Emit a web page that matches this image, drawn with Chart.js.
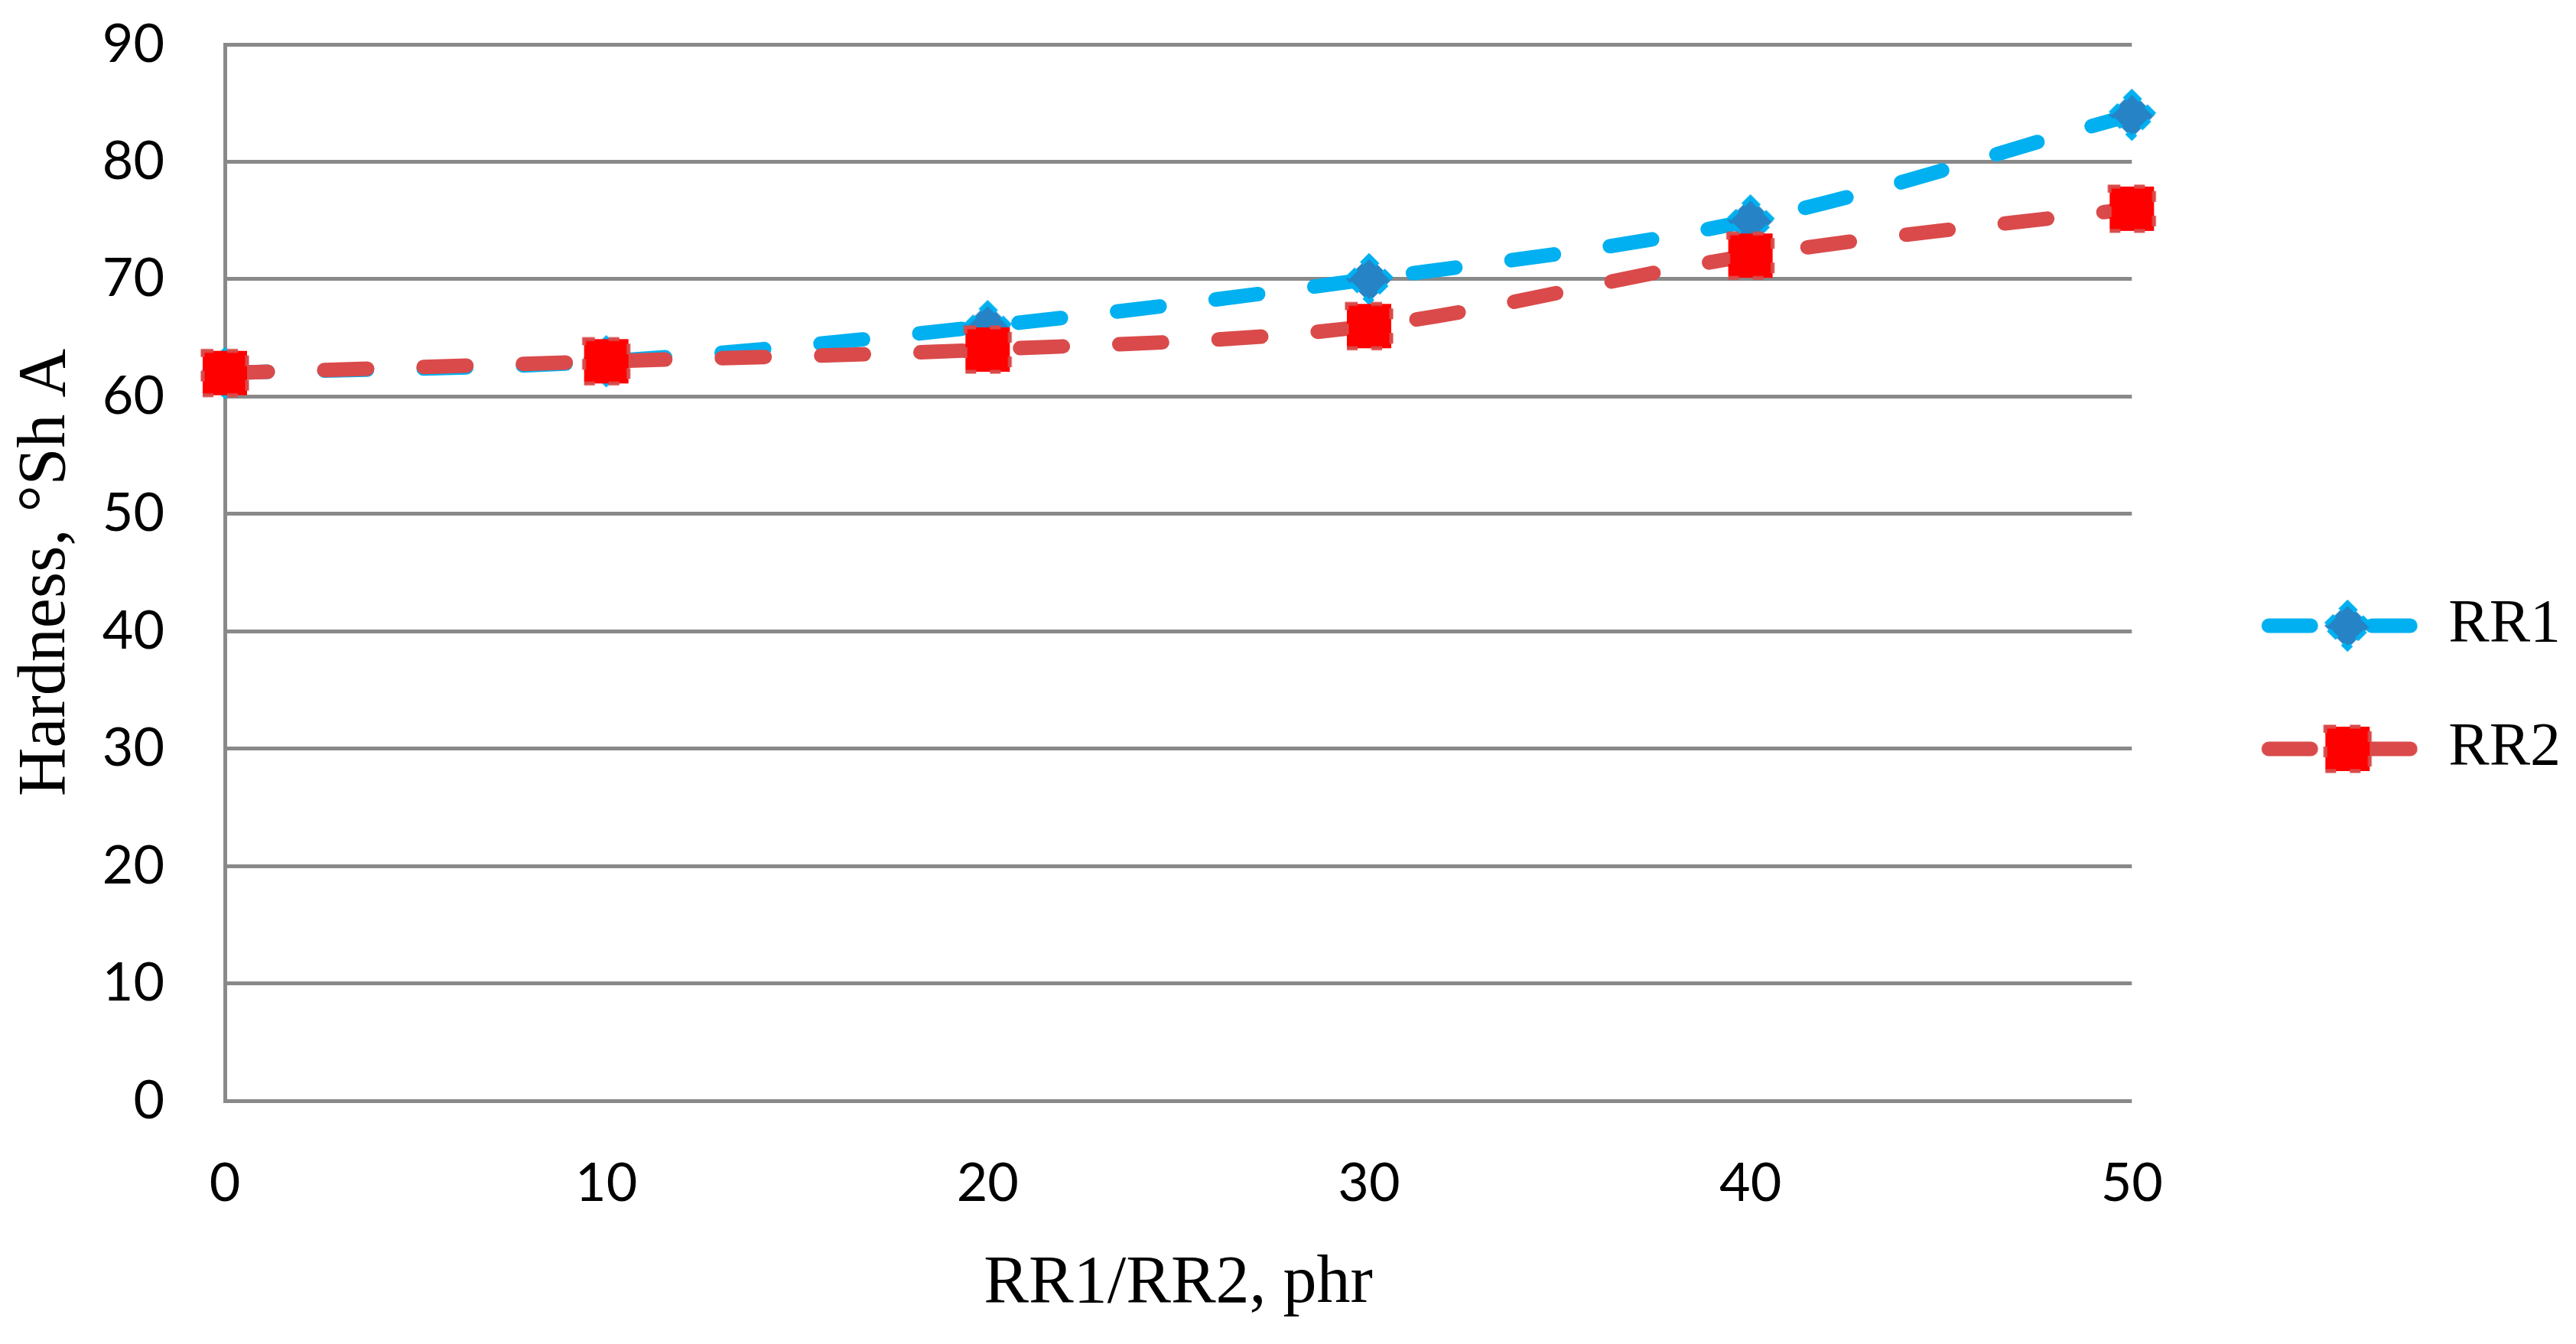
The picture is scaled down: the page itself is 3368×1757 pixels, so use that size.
<!DOCTYPE html>
<html>
<head>
<meta charset="utf-8">
<script src="https://cdn.jsdelivr.net/npm/chart.js@4.4.1/dist/chart.umd.min.js"></script>
<style>
  html, body { margin: 0; padding: 0; background: #fff; }
  #wrap { width: 3368px; height: 1757px; }
</style>
</head>
<body>
<div id="wrap"><canvas id="hardnessChart" width="3368" height="1757"></canvas></div>
<script>
// data
const phr = [0, 10, 20, 30, 40, 50];
const rr1 = [62, 63, 66, 70, 75, 84];
const rr2 = [62, 63, 64, 66, 72, 76];
const seriesNames = ["RR1", "RR2"];
const yTicks = [0, 10, 20, 30, 40, 50, 60, 70, 80, 90];

const blueLine = "#00B0F0";
const blueFill = "#2683C6";
const redLine = "#DA4A4A";
const redFill = "#FF0000";
const gridGray = "#898989";

/* marker images, drawn once on small canvases */
function diamondMarker(){
    const c = document.createElement("canvas");
    c.width = 76; c.height = 76;
    const ctx = c.getContext("2d");
    const r = 30, m = 38;
    ctx.beginPath();
    ctx.moveTo(m, m - r); ctx.lineTo(m + r, m); ctx.lineTo(m, m + r); ctx.lineTo(m - r, m);
    ctx.closePath();
    ctx.fillStyle = blueFill;
    ctx.fill();
    ctx.setLineDash([16, 10]);
    ctx.lineWidth = 6;
    ctx.strokeStyle = blueLine;
    ctx.stroke();
    return c;
}
function squareMarker(){
    const c = document.createElement("canvas");
    c.width = 72; c.height = 72;
    const ctx = c.getContext("2d");
    const s = 58, o = 7;
    ctx.fillStyle = redFill;
    ctx.fillRect(o, o, s, s);
    ctx.setLineDash([14, 18]);
    ctx.lineWidth = 5;
    ctx.strokeStyle = redLine;
    ctx.strokeRect(o, o, s, s);
    return c;
}
/* legend sample: dashed line with marker, left part left transparent */
function legendSample(color, marker){
    const c = document.createElement("canvas");
    c.width = 293; c.height = 80;
    const ctx = c.getContext("2d");
    ctx.strokeStyle = color;
    ctx.lineWidth = 19;
    ctx.lineCap = "round";
    ctx.beginPath();
    ctx.moveTo(98, 40); ctx.lineTo(153, 40);
    ctx.moveTo(233, 40); ctx.lineTo(283, 40);
    ctx.stroke();
    ctx.drawImage(marker, 201 - marker.width / 2, 40 - marker.height / 2);
    return c;
}

const rr1Marker = diamondMarker();
const rr2Marker = squareMarker();
const legendImgs = [legendSample(blueLine, rr1Marker), legendSample(redLine, rr2Marker)];

function toPoints(values){
    return phr.map((x, i) => ({x: x, y: values[i]}));
}

const ctx = document.getElementById("hardnessChart").getContext("2d");
new Chart(ctx, {
    type: "line",
    data: {
        datasets: [
            {
                label: seriesNames[0],
                data: toPoints(rr1),
                borderColor: blueLine,
                backgroundColor: blueFill,
                borderWidth: 19,
                borderDash: [56, 74],
                borderCapStyle: "round",
                tension: 0.35,
                pointStyle: rr1Marker,
                pointRadius: 30,
                clip: false,
                order: 1
            },
            {
                label: seriesNames[1],
                data: toPoints(rr2),
                borderColor: redLine,
                backgroundColor: redFill,
                borderWidth: 19,
                borderDash: [56, 74],
                borderCapStyle: "round",
                tension: 0.35,
                pointStyle: rr2Marker,
                pointRadius: 30,
                clip: false,
                order: 0
            }
        ]
    },
    options: {
        responsive: false,
        animation: false,
        events: [],
        layout: { padding: { top: 58, right: 10, bottom: 18, left: 0 } },
        plugins: {
            tooltip: { enabled: false },
            legend: {
                position: "right",
                align: "center",
                labels: {
                    usePointStyle: true,
                    pointStyleWidth: 293,
                    padding: 81,
                    color: "#000",
                    font: { family: "'Liberation Serif', serif", size: 80 },
                    sort: (a, b) => a.datasetIndex - b.datasetIndex,
                    generateLabels: (chart) => {
                        const items = Chart.defaults.plugins.legend.labels.generateLabels(chart);
                        items.forEach(it => { it.pointStyle = legendImgs[it.datasetIndex]; });
                        return items;
                    }
                }
            }
        },
        scales: {
            x: {
                type: "linear",
                min: 0,
                max: 50,
                afterFit: (scale) => { scale.height = 300; },
                afterBuildTicks: (scale) => { scale.ticks = phr.map(v => ({value: v})); },
                grid: { display: false, drawTicks: false },
                border: { display: false },
                ticks: {
                    padding: 66,
                    color: "#000",
                    font: { family: "Lato, sans-serif", size: 70 }
                },
                title: {
                    display: true,
                    text: "RR1/RR2, phr",
                    color: "#000",
                    padding: { top: 0, bottom: 7 },
                    font: { family: "'Liberation Serif', serif", size: 88 }
                }
            },
            y: {
                min: 0,
                max: 90,
                afterFit: (scale) => {
                    scale.width = 294;
                    // the tick padding should not push the plot down
                    scale.paddingTop = 0;
                    scale.paddingBottom = 0;
                },
                afterBuildTicks: (scale) => { scale.ticks = yTicks.map(v => ({value: v})); },
                grid: { color: gridGray, lineWidth: 5, drawTicks: false },
                border: { display: true, color: gridGray, width: 5 },
                ticks: {
                    padding: 79,
                    color: "#000",
                    font: { family: "Lato, sans-serif", size: 70 }
                },
                title: {
                    display: true,
                    text: "Hardness, °Sh A",
                    color: "#000",
                    padding: { top: 8, bottom: 0 },
                    font: { family: "'Liberation Serif', serif", size: 88 }
                }
            }
        }
    }
});
</script>
</body>
</html>
